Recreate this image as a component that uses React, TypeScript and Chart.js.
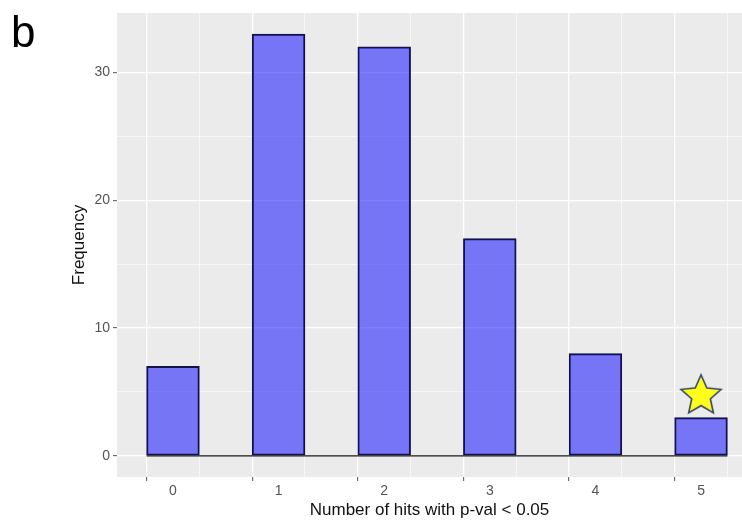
import React, { useEffect, useRef } from "react";
import { Chart, registerables } from "chart.js";

Chart.register(...registerables);

// ---- data ----
const hitCounts = [0, 1, 2, 3, 4, 5];
const frequencies = [7, 33, 32, 17, 8, 3];
const binWidth = 0.5;
const xMajorTicks = [0, 1, 2, 3, 4, 5];
const xMinorTicks = [-0.5, 0.5, 1.5, 2.5, 3.5, 4.5];
const yMajorTicks = [0, 10, 20, 30];
const yMinorTicks = [5, 15, 25];
const starPoint = { x: 5, y: 4.7 };
const panelLabel = "b";
const xTitle = "Number of hits with p-val < 0.05";
const yTitle = "Frequency";

function makeStar(R: number, r: number, fill: string, stroke: string, lw: number) {
  const size = Math.ceil(2 * R + 2 * lw + 4);
  const c = document.createElement("canvas");
  c.width = size;
  c.height = size;
  const ctx = c.getContext("2d")!;
  const cx = size / 2;
  const cy = size / 2;
  ctx.beginPath();
  for (let i = 0; i < 10; i++) {
    const rad = i % 2 === 0 ? R : r;
    const a = -Math.PI / 2 + (i * Math.PI) / 5;
    const px = cx + rad * Math.cos(a);
    const py = cy + rad * Math.sin(a);
    if (i === 0) ctx.moveTo(px, py);
    else ctx.lineTo(px, py);
  }
  ctx.closePath();
  ctx.fillStyle = fill;
  ctx.fill();
  ctx.lineWidth = lw;
  ctx.strokeStyle = stroke;
  ctx.lineJoin = "miter";
  ctx.stroke();
  return c;
}

const zeroPad = (s: any) => {
  s.paddingLeft = 0;
  s.paddingRight = 0;
  s.paddingTop = 0;
  s.paddingBottom = 0;
};

export default function App() {
  const ref = useRef<HTMLCanvasElement | null>(null);

  useEffect(() => {
    if (!ref.current) return;
    const star = makeStar(21, 9.8, "#FFFF1A", "#34466A", 1.6);

    const panelBg = {
      id: "panelBg",
      beforeDraw(chart: any) {
        const { ctx, chartArea } = chart;
        ctx.save();
        ctx.fillStyle = "#EBEBEB";
        ctx.fillRect(chartArea.left, chartArea.top, chartArea.right - chartArea.left, chartArea.bottom - chartArea.top);
        ctx.restore();
      },
      afterDraw(chart: any) {
        const { ctx } = chart;
        ctx.save();
        ctx.fillStyle = "#000";
        ctx.font = "44px 'Liberation Sans', Arial, sans-serif";
        ctx.textBaseline = "alphabetic";
        ctx.textAlign = "left";
        ctx.fillText(panelLabel, 11, 47);
        ctx.restore();
      },
    };

    const isMajorX = (v: number) => xMajorTicks.includes(v);
    const isMajorY = (v: number) => yMajorTicks.includes(v);

    const chart = new Chart(ref.current, {
      type: "bar",
      data: {
        datasets: [
          {
            type: "scatter",
            data: [starPoint],
            pointStyle: star as any,
            pointRadius: 21,
            order: 0,
          } as any,
          {
            type: "bar",
            data: hitCounts.map((h, i) => ({ x: h, y: frequencies[i] })),
            backgroundColor: "rgba(0,0,255,0.5)",
            borderColor: "#15152A",
            borderWidth: 1.3,
            borderSkipped: false,
            barPercentage: 1,
            categoryPercentage: 1,
            order: 1,
          } as any,
          {
            type: "line",
            data: [
              { x: hitCounts[0] - binWidth / 2, y: 0 },
              { x: hitCounts[hitCounts.length - 1] + binWidth / 2, y: 0 },
            ],
            borderColor: "#151515",
            borderWidth: 1.2,
            pointRadius: 0,
            fill: false,
            order: 2,
          } as any,
        ],
      },
      options: {
        animation: false,
        responsive: false,
        layout: { autoPadding: false, padding: { top: 13, left: 0, right: 0, bottom: 0 } },
        plugins: { legend: { display: false }, tooltip: { enabled: false } },
        scales: {
          x: {
            type: "linear",
            min: -0.53,
            max: 5.388,
            offset: false,
            afterFit: (s: any) => {
              s.height = 48;
              zeroPad(s);
            },
            afterBuildTicks: (s: any) => {
              s.ticks = [...xMinorTicks, ...xMajorTicks].sort((a, b) => a - b).map((v) => ({ value: v }));
            },
            border: { display: false },
            grid: {
              color: "#FFFFFF",
              lineWidth: (c: any) => (c.tick && isMajorX(c.tick.value) ? 1.3 : 0.6),
              drawTicks: true,
              tickLength: 4,
              tickWidth: 1,
              tickColor: (c: any) => (c.tick && isMajorX(c.tick.value) ? "#555" : "rgba(0,0,0,0)"),
            },
            ticks: {
              autoSkip: false,
              maxRotation: 0,
              padding: 2,
              color: "#555",
              font: { family: "'Liberation Sans', Arial, sans-serif", size: 14 },
              callback: (v: any) => (isMajorX(Number(v)) ? String(v) : ""),
            },
            title: {
              display: true,
              text: xTitle,
              color: "#111",
              font: { family: "'Liberation Sans', Arial, sans-serif", size: 17 },
              padding: { top: 0, bottom: 4 },
            },
          },
          y: {
            type: "linear",
            min: -1.65,
            max: 34.65,
            afterFit: (s: any) => {
              s.width = 117;
              zeroPad(s);
            },
            afterBuildTicks: (s: any) => {
              s.ticks = [...yMinorTicks, ...yMajorTicks].sort((a, b) => a - b).map((v) => ({ value: v }));
            },
            border: { display: false },
            grid: {
              color: "#FFFFFF",
              lineWidth: (c: any) => (c.tick && isMajorY(c.tick.value) ? 1.3 : 0.6),
              drawTicks: true,
              tickLength: 4,
              tickWidth: 1,
              tickColor: (c: any) => (c.tick && isMajorY(c.tick.value) ? "#555" : "rgba(0,0,0,0)"),
            },
            ticks: {
              autoSkip: false,
              padding: 3,
              color: "#555",
              font: { family: "'Liberation Sans', Arial, sans-serif", size: 14 },
              callback: (v: any) => (isMajorY(Number(v)) ? String(v) : ""),
            },
            title: {
              display: true,
              text: yTitle,
              color: "#111",
              font: { family: "'Liberation Sans', Arial, sans-serif", size: 17 },
              padding: { top: 69, bottom: 0 },
            },
          },
        },
      },
      plugins: [panelBg],
    } as any);

    return () => chart.destroy();
  }, []);

  return (
    <div style={{ position: "absolute", left: 0, top: 0, width: 742, height: 525, background: "#fff" }}>
      <canvas ref={ref} width={742} height={525} style={{ display: "block" }} />
    </div>
  );
}
